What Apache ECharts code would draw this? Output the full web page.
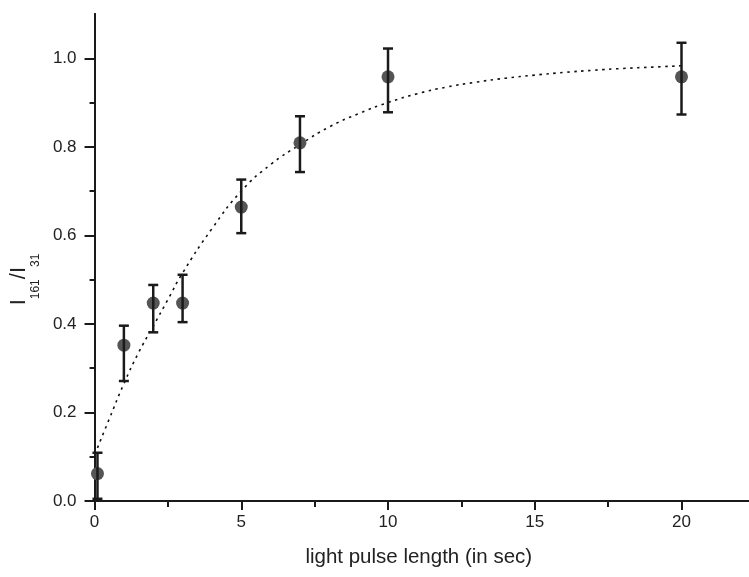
<!DOCTYPE html>
<html>
<head>
<meta charset="utf-8">
<script src="https://cdn.jsdelivr.net/npm/echarts@6/dist/echarts.min.js"></script>
<style>
html,body{margin:0;padding:0;background:#fff;}
#c{width:749px;height:577px;}
</style>
</head>
<body>
<div id="c"></div>
<script>
// Measured points
var pulseX   = [0.1, 1, 2, 3, 5, 7, 10, 20];
var ratioY   = [0.062, 0.352, 0.447, 0.447, 0.664, 0.809, 0.958, 0.958];
var errLow   = [0.005, 0.271, 0.381, 0.404, 0.605, 0.743, 0.878, 0.873];
var errHigh  = [0.109, 0.396, 0.488, 0.511, 0.726, 0.869, 1.022, 1.035];
// Fitted curve (dotted)
var fitX = [0.1, 0.5, 1, 1.5, 2, 2.5, 3, 4, 5, 6, 7, 8, 9, 10, 11, 12, 13, 14, 15, 16, 17, 18, 19, 20];
var fitY = [0.12, 0.185, 0.265, 0.335, 0.395, 0.455, 0.515, 0.615, 0.70, 0.76, 0.805, 0.845, 0.875, 0.90, 0.92, 0.935, 0.946, 0.955, 0.962, 0.968, 0.973, 0.977, 0.980, 0.983];
// Tick values
var xMajor = [0, 5, 10, 15, 20];
var xMinor = [2.5, 7.5, 12.5, 17.5];
var yMajor = [0, 0.2, 0.4, 0.6, 0.8, 1.0];
var yMinor = [0.1, 0.3, 0.5, 0.7, 0.9];

var chart = echarts.init(document.getElementById('c'));
var font = 'Arial, "Liberation Sans", sans-serif';
var axisCol = '#1a1a1a';

var pts = pulseX.map(function (x, i) { return [x, ratioY[i]]; });
var errs = pulseX.map(function (x, i) { return [x, errLow[i], errHigh[i]]; });
var fit = fitX.map(function (x, i) { return [x, fitY[i]]; });

function baseX(extra) {
  return Object.assign({
    type: 'value', min: 0, max: 22.3, position: 'bottom',
    axisLine: { show: true, onZero: false, lineStyle: { color: axisCol, width: 2 } },
    splitLine: { show: false }
  }, extra);
}
function baseY(extra) {
  return Object.assign({
    type: 'value', min: 0, max: 1.1, position: 'left',
    axisLine: { show: true, onZero: false, lineStyle: { color: axisCol, width: 2 } },
    splitLine: { show: false }
  }, extra);
}

chart.setOption({
  animation: false,
  backgroundColor: '#ffffff',
  grid: { left: 91, right: 0, top: 14, bottom: 76, containLabel: false },
  xAxis: [
    baseX({
      name: 'light pulse length (in sec)',
      nameLocation: 'middle', nameGap: 46,
      nameTextStyle: { fontFamily: font, fontSize: 20.5, color: '#222', padding: [0, 6, 0, 0] },
      axisTick: { show: true, length: 9, customValues: xMajor, lineStyle: { color: axisCol, width: 2 } },
      axisLabel: { show: true, customValues: xMajor, margin: 13, fontFamily: font, fontSize: 17, color: '#222' }
    }),
    baseX({
      axisTick: { show: true, length: 6, customValues: xMinor, lineStyle: { color: axisCol, width: 2 } },
      axisLabel: { show: false }
    })
  ],
  yAxis: [
    baseY({
      name: '{m|I}{s|161}{m|/I}{s|31}',
      nameLocation: 'middle', nameGap: 49, nameRotate: 90,
      nameTextStyle: {
        fontFamily: font, color: '#222', padding: [0, 44, 0, 0],
        rich: {
          m: { fontFamily: font, fontSize: 22, lineHeight: 46, color: '#222' },
          s: { fontFamily: font, fontSize: 12, lineHeight: 12, verticalAlign: 'bottom', color: '#222' }
        }
      },
      axisTick: { show: true, length: 10, customValues: yMajor, lineStyle: { color: axisCol, width: 2 } },
      axisLabel: { show: true, customValues: yMajor, margin: 18, fontFamily: font, fontSize: 17, color: '#222',
        formatter: function (v) { return v.toFixed(1); } }
    }),
    baseY({
      axisTick: { show: true, length: 5, customValues: yMinor, lineStyle: { color: axisCol, width: 2 } },
      axisLabel: { show: false }
    })
  ],
  series: [
    {
      type: 'line', data: fit, smooth: true, showSymbol: false, symbol: 'none',
      lineStyle: { color: '#111', width: 1.6, type: [2.5, 4.5] }, z: 2
    },
    {
      type: 'scatter', data: pts, symbol: 'circle', symbolSize: 13,
      itemStyle: { color: '#555555', opacity: 1 }, z: 3
    },
    {
      type: 'custom', data: errs, z: 4,
      encode: { x: 0, y: [1, 2] },
      renderItem: function (params, api) {
        var x = api.value(0);
        var lo = api.coord([x, api.value(1)]);
        var hi = api.coord([x, api.value(2)]);
        var cap = 5;
        var st = { stroke: '#1a1a1a', lineWidth: 2.5 };
        return {
          type: 'group',
          children: [
            { type: 'line', shape: { x1: lo[0], y1: lo[1], x2: hi[0], y2: hi[1] }, style: st },
            { type: 'line', shape: { x1: lo[0] - cap, y1: lo[1], x2: lo[0] + cap, y2: lo[1] }, style: st },
            { type: 'line', shape: { x1: hi[0] - cap, y1: hi[1], x2: hi[0] + cap, y2: hi[1] }, style: st }
          ]
        };
      }
    }
  ]
});
</script>
</body>
</html>
